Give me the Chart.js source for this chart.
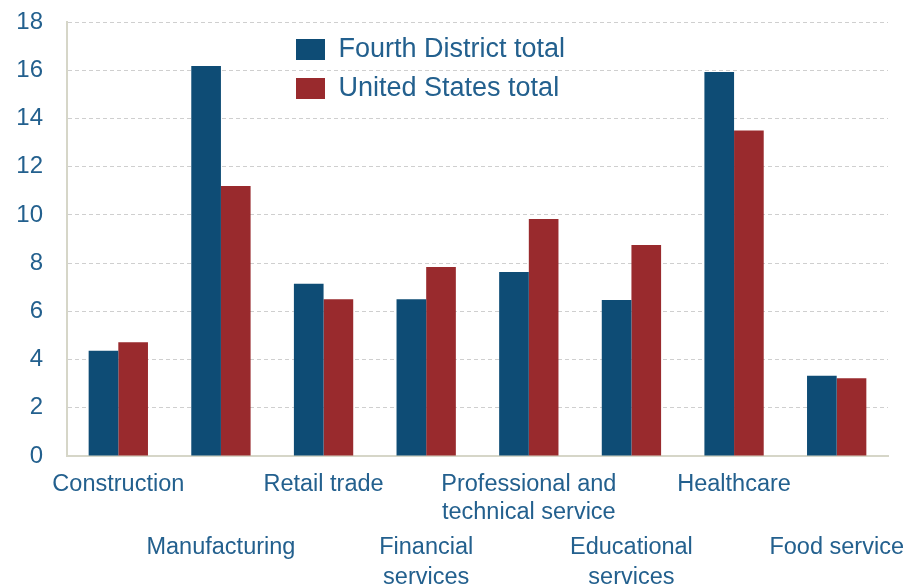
<!DOCTYPE html>
<html>
<head>
<meta charset="utf-8">
<script src="https://cdn.jsdelivr.net/npm/chart.js@4.4.1/dist/chart.umd.min.js"></script>
<style>
  html, body { margin: 0; padding: 0; background: #fff; }
  #wrap { width: 917px; height: 585px; position: relative; }
</style>
</head>
<body>
<div id="wrap"><canvas id="mainChart"></canvas></div>
<script>
const categories = [
  ['Construction'],
  ['Manufacturing'],
  ['Retail trade'],
  ['Financial', 'services'],
  ['Professional and', 'technical service'],
  ['Educational', 'services'],
  ['Healthcare'],
  ['Food service']
];
const fourthDistrict = [4.37, 16.18, 7.14, 6.5, 7.63, 6.47, 15.93, 3.33];
const unitedStates = [4.72, 11.2, 6.5, 7.84, 9.83, 8.75, 13.5, 3.22];
const yTicks = [0, 2, 4, 6, 8, 10, 12, 14, 16, 18];

const textBlue = '#23608e';
const axisColor = '#d6d6c8';
const fontFamily = '"Liberation Sans", Arial, sans-serif';

// move the legend into the plot, below the top gridline
const legendSpot = {
  id: 'legendSpot',
  afterLayout(chart) {
    const l = chart.legend;
    if (!l) return;
    const w = l.width, h = l.height;
    l.left = 284;
    l.top = 24;
    l.right = l.left + w;
    l.bottom = l.top + h;
  }
};

function drawChart() {
  const ctx = document.getElementById('mainChart');
  new Chart(ctx, {
    type: 'bar',
    data: {
      labels: categories,
      datasets: [
        { label: 'Fourth District total', data: fourthDistrict, backgroundColor: '#0e4c75', borderWidth: 0 },
        { label: 'United States total', data: unitedStates, backgroundColor: '#992a2d', borderWidth: 0 }
      ]
    },
    options: {
      responsive: true,
      maintainAspectRatio: false,
      animation: false,
      layout: { padding: { top: 22, right: 29, left: 0, bottom: 0 } },
      datasets: { bar: { categoryPercentage: 0.578, barPercentage: 1 } },
      plugins: {
        tooltip: { enabled: false },
        legend: {
          position: 'chartArea',
          align: 'start',
          labels: {
            boxWidth: 29,
            boxHeight: 21,
            padding: 12,
            color: textBlue,
            font: { family: fontFamily, size: 27 }
          }
        }
      },
      scales: {
        x: {
          offset: true,
          grid: { display: true, drawOnChartArea: false, drawTicks: false, color: axisColor },
          border: { display: true, color: axisColor, width: 2 },
          afterFit: s => { s.height = 129; s.paddingLeft = 0; s.paddingRight = 0; },
          ticks: {
            autoSkip: false,
            maxRotation: 0,
            padding: 15,
            color: textBlue,
            font: c => ({ family: fontFamily, size: 23.5, lineHeight: (c.index % 2) ? '30.5px' : '28px' }),
            callback: (v, i) => (i % 2) ? ['', ''].concat(categories[i]) : categories[i]
          }
        },
        y: {
          min: 0,
          max: 18,
          afterFit: s => { s.width = 67; s.paddingTop = 0; s.paddingBottom = 0; },
          afterBuildTicks: s => { s.ticks = yTicks.map(v => ({ value: v })); },
          grid: { color: '#cfcfcf', lineWidth: 1, drawTicks: false },
          border: { display: true, color: axisColor, width: 2, dash: [4, 3] },
          ticks: {
            padding: 24,
            color: textBlue,
            font: { family: fontFamily, size: 24 }
          }
        }
      }
    },
    plugins: [legendSpot]
  });
}

drawChart();
</script>
</body>
</html>
